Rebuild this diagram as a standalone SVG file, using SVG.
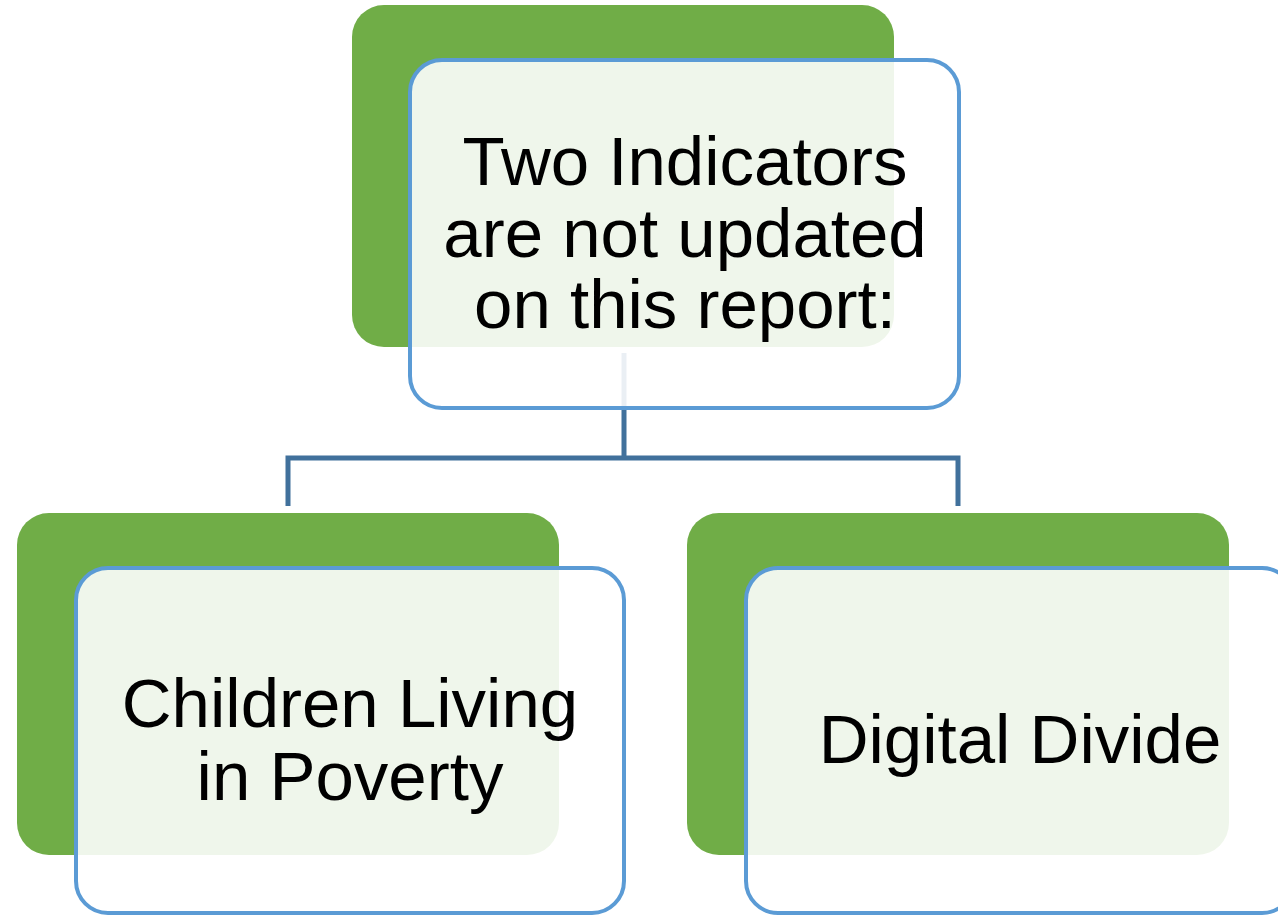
<svg xmlns="http://www.w3.org/2000/svg" width="1278" height="915" viewBox="0 0 1278 915">
<defs>
<style>
.back{fill:#70AD47;}
.front{fill:#FFFFFF;fill-opacity:0.89;stroke:#5B9BD5;stroke-width:4;}
.conn{fill:none;stroke:#41719C;stroke-width:5;}
.lbl{font-family:"Liberation Sans",Arial,sans-serif;font-size:69px;fill:#000;text-anchor:middle;}
</style>
</defs>
<rect width="1278" height="915" fill="#FFFFFF"/>
<g id="connectors">
<path class="conn" d="M624,353 V458 M288,506 V458 H958 V506"/>
</g>
<g id="node-top">
<rect class="back" x="352" y="5" width="542" height="342" rx="32"/>
<rect class="front" x="410" y="60" width="549" height="348" rx="32"/>
<text class="lbl" x="685" y="185">Two Indicators</text>
<text class="lbl" x="685" y="257">are not updated</text>
<text class="lbl" x="685" y="328">on this report:</text>
</g>
<g id="node-left">
<rect class="back" x="17" y="513" width="542" height="342" rx="32"/>
<rect class="front" x="76" y="568" width="548" height="345" rx="32"/>
<text class="lbl" x="350" y="727">Children Living</text>
<text class="lbl" x="350" y="800">in Poverty</text>
</g>
<g id="node-right">
<rect class="back" x="687" y="513" width="542" height="342" rx="32"/>
<rect class="front" x="746" y="568" width="548" height="345" rx="32"/>
<text class="lbl" x="1020" y="763">Digital Divide</text>
</g>
</svg>
